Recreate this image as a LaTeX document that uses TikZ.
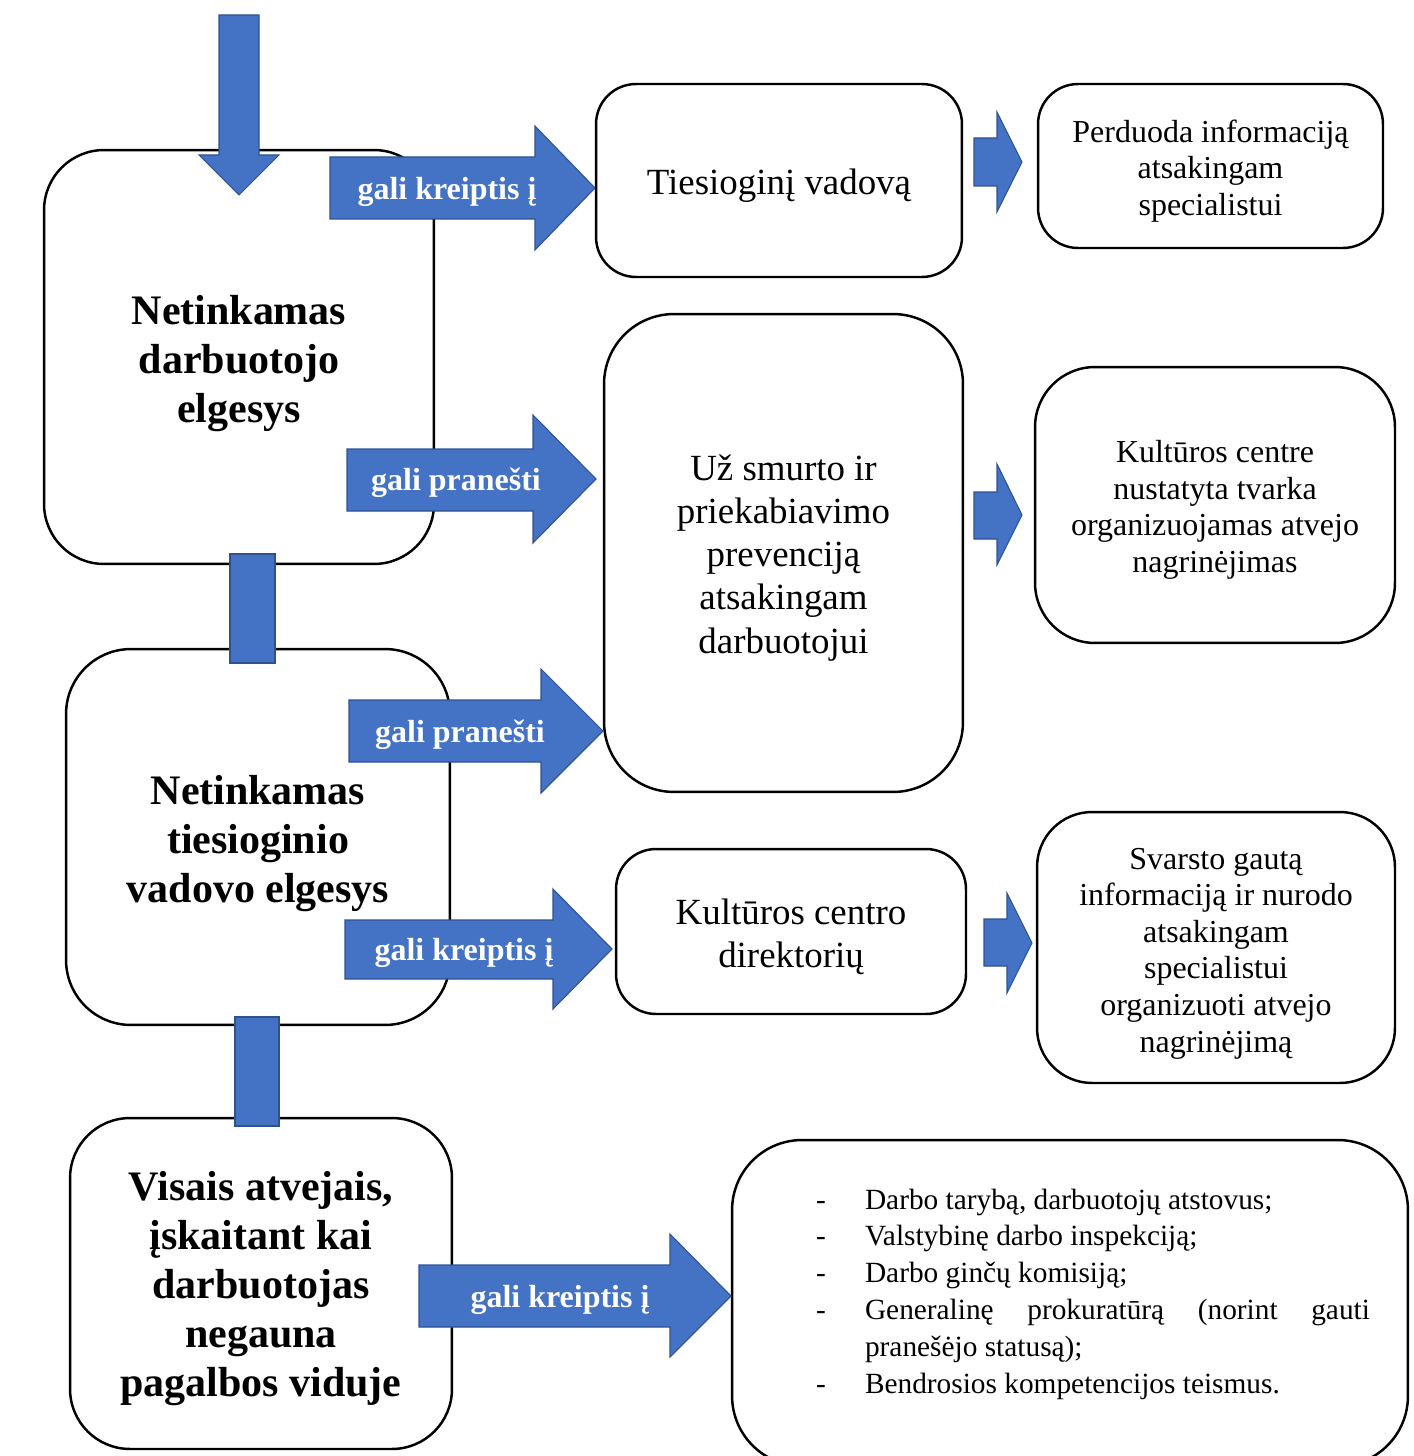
\documentclass[tikz,border=0pt]{standalone}
\usepackage{fontspec}
\setmainfont{Liberation Serif}
\definecolor{arrowblue}{RGB}{68,114,196}
\definecolor{arrowedge}{RGB}{47,82,143}
\newcommand{\dashitem}[1]{\par\hangindent=0.98cm\hangafter=1\noindent\makebox[0.98cm][l]{-}#1}
\tikzset{
  box/.style={draw, line width=1.4pt, rounded corners=#1, inner sep=0pt, fill=white},
  box/.default=1.2cm,
  blockarrow/.style={fill=arrowblue, draw=arrowedge, line width=0.6pt},
  bigtext/.style={font=\fontsize{23.9}{27.9}\selectfont\bfseries, align=center, inner sep=0pt, yshift=-0.13cm},
  midtext/.style={font=\fontsize{21}{24.5}\selectfont, align=center, inner sep=0pt, yshift=-0.1cm},
  smalltext/.style={font=\fontsize{18.2}{20.8}\selectfont, align=center, inner sep=0pt, yshift=-0.1cm},
  arrowlabel/.style={font=\fontsize{18.2}{20.8}\selectfont\bfseries, text=white, inner sep=0pt, yshift=-0.07cm}
}
\begin{document}
\begin{tikzpicture}[x=0.02cm,y=-0.02cm]
    \useasboundingbox (0,0) rectangle (1413,1456);
    % Left column
    \node[box, minimum width=7.8cm, minimum height=8.28cm] (darbuotojas) at (239,357) {};
    \node[bigtext] (darbuotojas-t) at (darbuotojas) {Netinkamas\\darbuotojo\\elgesys};
    \node[box=1.3cm, minimum width=7.68cm, minimum height=7.52cm] (vadovas) at (258,837) {};
    \node[bigtext] (vadovas-t) at (vadovas) {Netinkamas\\tiesioginio\\vadovo elgesys};
    \node[box, minimum width=7.64cm, minimum height=6.62cm] (visais) at (261,1283.5) {};
    \node[bigtext, yshift=0.02cm] (visais-t) at (visais) {Visais atvejais,\\įskaitant kai\\darbuotojas\\negauna\\pagalbos viduje};
    % Middle column
    \node[box=0.8cm, minimum width=7.32cm, minimum height=3.86cm] (tiesioginis) at (779,180.5) {};
    \node[midtext] (tiesioginis-t) at (tiesioginis) {Tiesioginį vadovą};
    \node[box=1.4cm, minimum width=7.18cm, minimum height=9.56cm] (prevencija) at (783.5,553) {};
    \node[midtext] (prevencija-t) at (prevencija) {Už smurto ir\\priekabiavimo\\prevenciją\\atsakingam\\darbuotojui};
    \node[box=0.8cm, minimum width=7.0cm, minimum height=3.3cm] (direktorius) at (791,931.5) {};
    \node[midtext] (direktorius-t) at (direktorius) {Kultūros centro\\direktorių};
    % Right column
    \node[box=0.8cm, minimum width=6.9cm, minimum height=3.28cm] (perduoda) at (1210.5,166) {};
    \node[smalltext] (perduoda-t) at (perduoda) {Perduoda informaciją\\atsakingam\\specialistui};
    \node[box, minimum width=7.2cm, minimum height=5.52cm] (tvarka) at (1215,505) {};
    \node[smalltext] (tvarka-t) at (tvarka) {Kultūros centre\\nustatyta tvarka\\organizuojamas atvejo\\nagrinėjimas};
    \node[box=1.1cm, minimum width=7.16cm, minimum height=5.42cm] (svarsto) at (1216,947.5) {};
    \node[smalltext, yshift=-0.02cm] (svarsto-t) at (svarsto) {Svarsto gautą\\informaciją ir nurodo\\atsakingam\\specialistui\\organizuoti atvejo\\nagrinėjimą};
    % Outside bodies
    \node[box=1.4cm, minimum width=13.52cm, minimum height=6.52cm] (kitur) at (1070,1303) {};
    \node[font=\fontsize{16.7}{21}\selectfont, text width=11.08cm, align=justify, inner sep=0pt] (sarasas) at (1093,1286) {\hyphenpenalty=10000
        \dashitem{Darbo tarybą, darbuotojų atstovus;}
        \dashitem{Valstybinę darbo inspekciją;}
        \dashitem{Darbo ginčų komisiją;}
        \dashitem{Generalinę prokuratūrą (norint gauti pranešėjo statusą);}
        \dashitem{Bendrosios kompetencijos teismus.}};
    % Incoming arrow
    \draw[blockarrow] (219,15) -- (259,15) -- (259,155) -- (279,155) -- (239,195) -- (199,155) -- (219,155) -- cycle;
    % Connectors between the left boxes
    \draw[blockarrow] (230,554) rectangle (275,663);
    \draw[blockarrow] (235,1017) rectangle (279,1126);
    % Labelled arrows
    \draw[blockarrow] (330,157) -- (535,157) -- (535,126) -- (595,188) -- (535,250) -- (535,219) -- (330,219) -- cycle;
    \draw[blockarrow] (347,449) -- (533,449) -- (533,415) -- (596,479) -- (533,543) -- (533,511) -- (347,511) -- cycle;
    \draw[blockarrow] (349,700) -- (541,700) -- (541,669) -- (603,731) -- (541,793) -- (541,762) -- (349,762) -- cycle;
    \draw[blockarrow] (345,920) -- (553,920) -- (553,889) -- (612,949) -- (553,1009) -- (553,979) -- (345,979) -- cycle;
    \draw[blockarrow] (419,1265) -- (670,1265) -- (670,1234) -- (731,1296) -- (670,1357) -- (670,1327) -- (419,1327) -- cycle;
    \node[arrowlabel] (kreiptis1) at (447,188) {gali kreiptis į};
    \node[arrowlabel] (pranesti1) at (456,479) {gali pranešti};
    \node[arrowlabel] (pranesti2) at (460,731) {gali pranešti};
    \node[arrowlabel] (kreiptis2) at (464,949) {gali kreiptis į};
    \node[arrowlabel] (kreiptis3) at (560,1296) {gali kreiptis į};
    % Small arrows
    \draw[blockarrow] (974,138) -- (997,138) -- (997,112) -- (1022,162) -- (997,212) -- (997,186) -- (974,186) -- cycle;
    \draw[blockarrow] (974,492) -- (997,492) -- (997,464) -- (1022,515) -- (997,565) -- (997,539) -- (974,539) -- cycle;
    \draw[blockarrow] (984,919) -- (1007,919) -- (1007,893) -- (1032,943) -- (1007,993) -- (1007,966) -- (984,966) -- cycle;
\end{tikzpicture}
\end{document}
